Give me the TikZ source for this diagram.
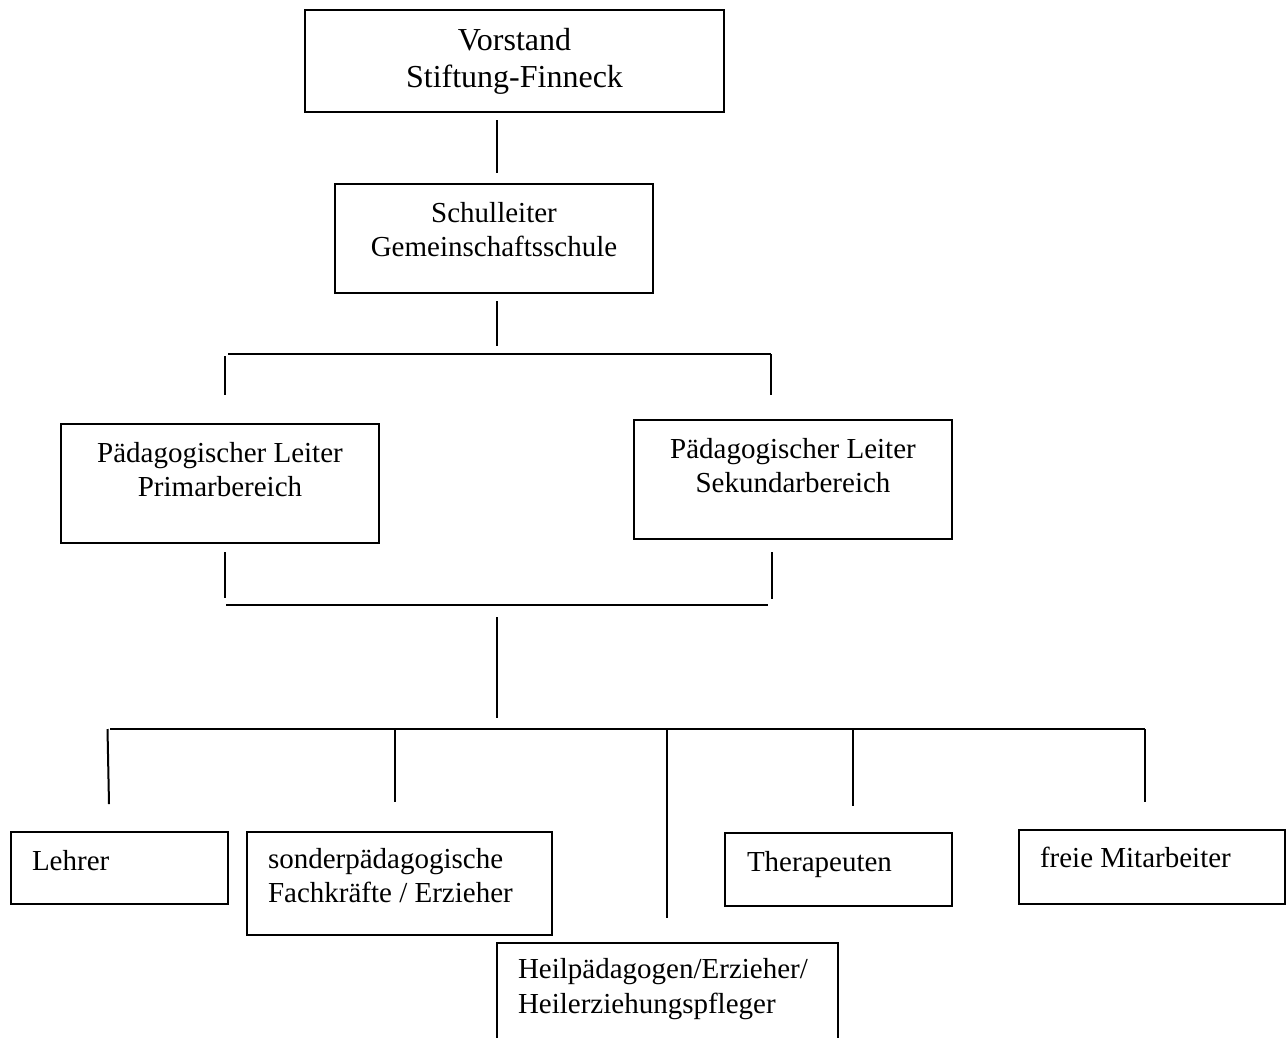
\documentclass[tikz,border=0pt]{standalone}
\usepackage{fontspec}
\setmainfont{Liberation Serif}
\begin{document}
\begin{tikzpicture}[x=1pt,y=-1pt,
  box/.style={draw, line width=2pt, inner sep=0pt, outer sep=0pt, anchor=north west},
  txt/.style={inner sep=0pt, outer sep=0pt, font=\fontsize{29}{34}\selectfont},
  bigtxt/.style={inner sep=0pt, outer sep=0pt, font=\fontsize{32}{37}\selectfont},
  conn/.style={draw, line width=2pt}]
\useasboundingbox[fill=white] (0,0) rectangle (1287,1037);
\clip (0,0) rectangle (1287,1037);

% boxes
\node[box, minimum width=419pt, minimum height=102pt] (vorstand) at (305,10) {};
\node[box, minimum width=318pt, minimum height=109pt] (schulleiter) at (335,184) {};
\node[box, minimum width=318pt, minimum height=119pt] (primar) at (61,424) {};
\node[box, minimum width=318pt, minimum height=119pt] (sekundar) at (634,420) {};
\node[box, minimum width=217pt, minimum height=72pt] (lehrer) at (11,832) {};
\node[box, minimum width=305pt, minimum height=103pt] (fach) at (247,832) {};
\node[box, minimum width=227pt, minimum height=73pt] (thera) at (725,833) {};
\node[box, minimum width=266pt, minimum height=74pt] (freie) at (1019,830) {};
\node[box, minimum width=341pt, minimum height=130pt] (heil) at (497,943) {};

% texts
\node[bigtxt, anchor=base] (vorstandA) at (514.5,50) {Vorstand};
\node[bigtxt, anchor=base] (vorstandB) at (514.5,87) {Stiftung-Finneck};
\node[txt, anchor=base] (schulA) at (494,222) {Schulleiter};
\node[txt, anchor=base] (schulB) at (494,256) {Gemeinschaftsschule};
\node[txt, anchor=base] (primA) at (220,462) {Pädagogischer Leiter};
\node[txt, anchor=base] (primB) at (220,496) {Primarbereich};
\node[txt, anchor=base] (sekA) at (793,458) {Pädagogischer Leiter};
\node[txt, anchor=base] (sekB) at (793,492) {Sekundarbereich};
\node[txt, anchor=base west] (lehrerT) at (32,870) {Lehrer};
\node[txt, anchor=base west] (fachA) at (268,868) {sonderpädagogische};
\node[txt, anchor=base west] (fachB) at (268,902) {Fachkräfte / Erzieher};
\node[txt, anchor=base west] (theraT) at (747,871) {Therapeuten};
\node[txt, anchor=base west] (freieT) at (1040,867) {freie Mitarbeiter};
\node[txt, anchor=base west] (heilA) at (518,978) {Heilpädagogen/Erzieher/};
\node[txt, anchor=base west] (heilB) at (518,1013) {Heilerziehungspfleger};

% connector points
\coordinate (a1) at (497,120);  \coordinate (a2) at (497,173);
\coordinate (b1) at (497,301);  \coordinate (b2) at (497,346);
\coordinate (h1l) at (228,354); \coordinate (h1r) at (771,354);
\coordinate (l1t) at (225,356); \coordinate (l1b) at (225,395);
\coordinate (r1t) at (771,354); \coordinate (r1b) at (771,395);
\coordinate (l2t) at (225,552); \coordinate (l2b) at (225,598);
\coordinate (r2t) at (772,552); \coordinate (r2b) at (772,599);
\coordinate (h2l) at (226,605); \coordinate (h2r) at (768,605);
\coordinate (m1) at (497,617);  \coordinate (m2) at (497,718);
\coordinate (h3l) at (110,729); \coordinate (h3r) at (1145,729);
\coordinate (d1t) at (107.5,729); \coordinate (d1b) at (109,804);
\coordinate (d2t) at (395,729); \coordinate (d2b) at (395,802);
\coordinate (d3t) at (667,729); \coordinate (d3b) at (667,918);
\coordinate (d4t) at (853,729); \coordinate (d4b) at (853,806);
\coordinate (d5t) at (1145,729); \coordinate (d5b) at (1145,802);

% connectors
\draw[conn] (a1) -- (a2);
\draw[conn] (b1) -- (b2);
\draw[conn] (h1l) -- (h1r);
\draw[conn] (l1t) -- (l1b);
\draw[conn] (r1t) -- (r1b);
\draw[conn] (l2t) -- (l2b);
\draw[conn] (r2t) -- (r2b);
\draw[conn] (h2l) -- (h2r);
\draw[conn] (m1) -- (m2);
\draw[conn] (h3l) -- (h3r);
\draw[conn] (d1t) -- (d1b);
\draw[conn] (d2t) -- (d2b);
\draw[conn] (d3t) -- (d3b);
\draw[conn] (d4t) -- (d4b);
\draw[conn] (d5t) -- (d5b);
\end{tikzpicture}
\end{document}
